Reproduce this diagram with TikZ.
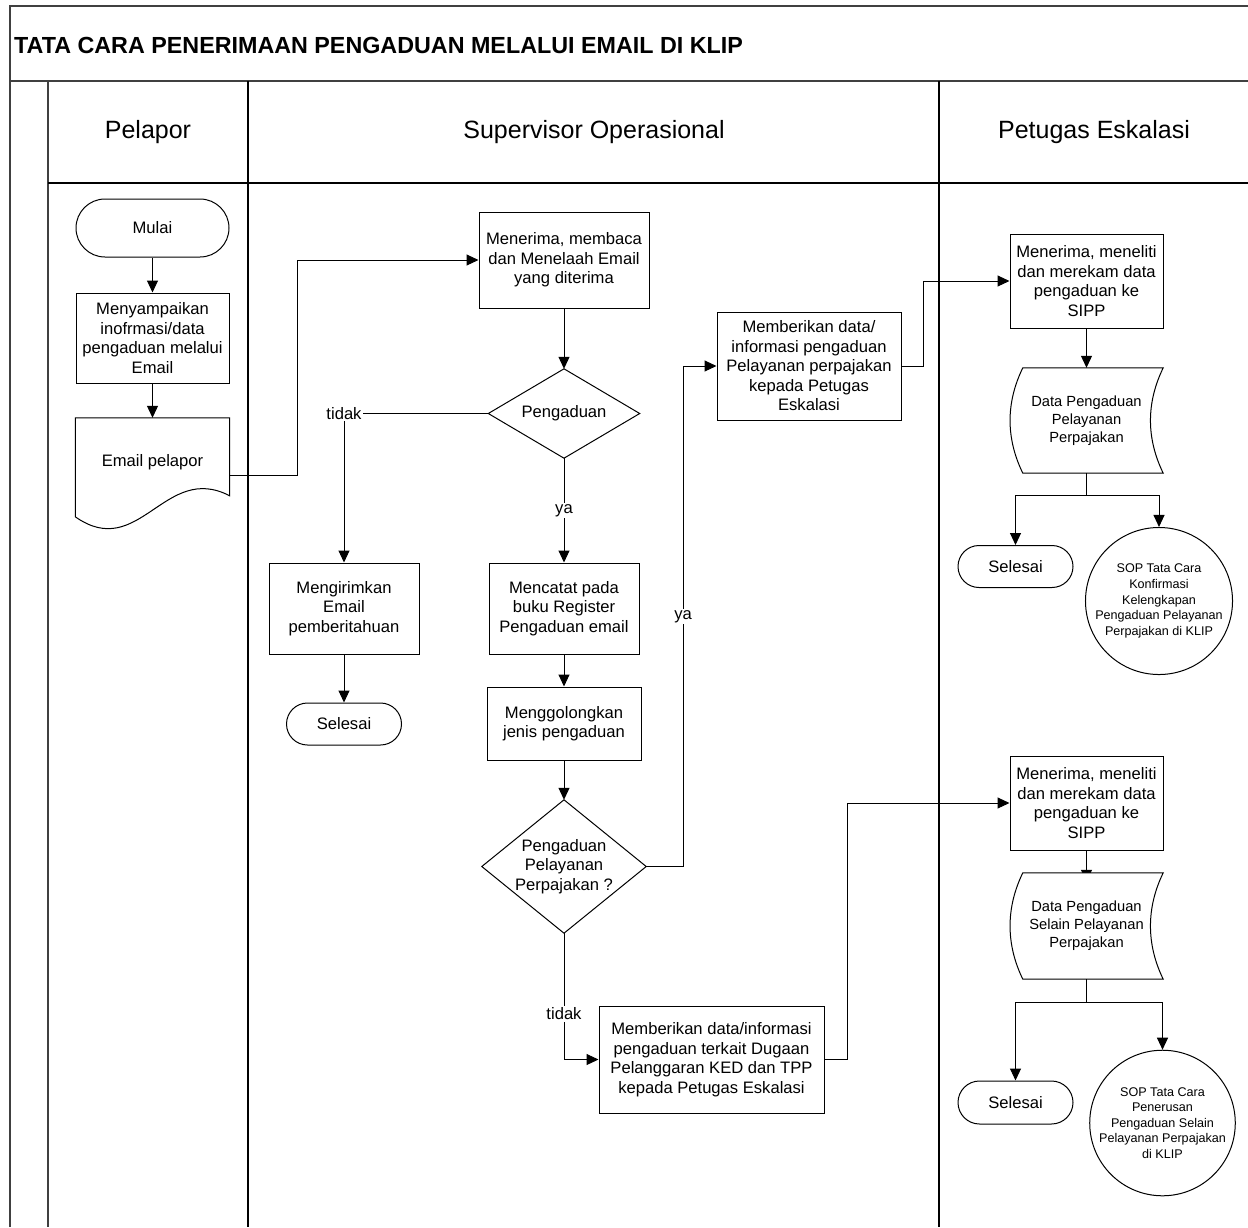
\documentclass[tikz,border=0pt]{standalone}
\usepackage{fontspec}
\setmainfont{Liberation Sans}
\usetikzlibrary{arrows.meta,calc,backgrounds}
\begin{document}
\begin{tikzpicture}[x=1pt,y=-1pt,
  every node/.style={font=\fontsize{16.6}{19.5}\selectfont, align=center, inner sep=0pt},
  proc/.style={draw, line width=1pt},
  term/.style={draw, line width=1pt},
  invis/.style={draw=none},
  sopc/.style={draw, line width=1pt, circle, minimum size=144pt, font=\fontsize{12.6}{15.6}\selectfont},
  lane/.style={line width=1.6pt, draw=black!75},
  conn/.style={line width=1pt},
  arr/.style={conn, -{Triangle[length=12pt,width=11pt]}},
  lbl/.style={fill=white, inner sep=1.5pt},
  shp/.style={line width=1pt, fill=white}
]
\useasboundingbox (0,0) rectangle (1248,1227);

% frame and lanes
\draw[lane] (10,1227) -- (10,6) -- (1248,6);
\draw[lane] (10,81) -- (1248,81);
\draw[lane] (48,81) -- (48,1227);
\draw[line width=1.2pt] (48,183) -- (1248,183);
\draw[line width=1.4pt] (248,81) -- (248,1227);
\draw[line width=1.4pt] (939,81) -- (939,1227);

\node[font=\fontsize{23.3}{28}\selectfont\bfseries, anchor=west] (title) at (14,45) {TATA CARA PENERIMAAN PENGADUAN MELALUI EMAIL DI KLIP};
\node[font=\fontsize{25}{30}\selectfont] (h1) at (148,132) {Pelapor};
\node[font=\fontsize{25}{30}\selectfont] (h2) at (594,132) {Supervisor Operasional};
\node[font=\fontsize{25}{30}\selectfont] (h3) at (1094,132) {Petugas Eskalasi};

% Pelapor lane
\node[term, minimum width=153pt, minimum height=58pt, rounded corners=29pt] (mulai) at (152.5,228) {Mulai};
\node[proc, minimum width=153pt, minimum height=90pt] (sampai) at (152.5,338) {Menyampaikan\\inofrmasi/data\\pengaduan melalui\\Email};
\node[invis, minimum width=154pt, minimum height=88pt] (email) at (152.5,462) {Email pelapor};

% Supervisor lane
\node[proc, minimum width=170pt, minimum height=96pt] (menerima) at (564,260) {Menerima, membaca\\dan Menelaah Email\\yang diterima};
\node[invis, minimum width=151pt, minimum height=89pt] (peng1) at (564,413.5) {Pengaduan};
\node[proc, minimum width=150pt, minimum height=91pt] (kirim) at (344,608.5) {Mengirimkan\\Email\\pemberitahuan};
\node[term, minimum width=115pt, minimum height=42pt, rounded corners=21pt] (sel1) at (344,724) {Selesai};
\node[proc, minimum width=150pt, minimum height=91pt] (catat) at (564,608.5) {Mencatat pada\\buku Register\\Pengaduan email};
\node[proc, minimum width=154pt, minimum height=73pt] (golong) at (564,723.5) {Menggolongkan\\jenis pengaduan};
\node[invis, minimum width=164pt, minimum height=133pt] (peng2) at (564,866.5) {Pengaduan\\Pelayanan\\Perpajakan ?};
\node[proc, minimum width=184pt, minimum height=108pt] (beri1) at (809,366) {Memberikan data/\\informasi pengaduan\\Pelayanan perpajakan\\kepada Petugas\\Eskalasi};
\node[proc, minimum width=225pt, minimum height=107pt] (beri2) at (711.5,1059.5) {Memberikan data/informasi\\pengaduan terkait Dugaan\\Pelanggaran KED dan TPP\\kepada Petugas Eskalasi};

% Petugas Eskalasi lane
\node[proc, minimum width=153pt, minimum height=94pt] (pe1) at (1086.5,281) {Menerima, meneliti\\dan merekam data\\pengaduan ke\\SIPP};
\node[invis, minimum width=153pt, minimum height=105pt, font=\fontsize{14.7}{18}\selectfont] (data1) at (1086.5,420.5) {Data Pengaduan\\Pelayanan\\Perpajakan};
\node[term, minimum width=115pt, minimum height=42pt, rounded corners=21pt] (sel2) at (1015.5,566.5) {Selesai};
\node[sopc] (sop1) at (1159,601) {SOP Tata Cara\\Konfirmasi\\Kelengkapan\\Pengaduan Pelayanan\\Perpajakan di KLIP};

\node[proc, minimum width=153pt, minimum height=94pt] (pe2) at (1086.5,803) {Menerima, meneliti\\dan merekam data\\pengaduan ke\\SIPP};
\node[invis, minimum width=153pt, minimum height=106pt, font=\fontsize{14.7}{18}\selectfont] (data2) at (1086.5,926) {Data Pengaduan\\Selain Pelayanan\\Perpajakan};
\node[term, minimum width=115pt, minimum height=43pt, rounded corners=21.5pt] (sel3) at (1015.5,1102.5) {Selesai};
\node[sopc, minimum size=142pt] (sop2) at (1162.5,1123) {SOP Tata Cara\\Penerusan\\Pengaduan Selain\\Pelayanan Perpajakan\\di KLIP};

% shapes drawn behind their texts
\begin{scope}[on background layer]
  \fill[white] (0,0) rectangle (1248,1227);
  \draw[arr] (pe2.south) -- ([yshift=-9pt]data2.north);
  \draw[shp] (email.north west) -- (email.north east) -- ($(email.north east)+(0,78)$)
     .. controls ($(email.north east)+(-65,44)$) and ($(email.north west)+(64,144)$) .. ($(email.north west)+(0,99)$) -- cycle;
  \draw[shp] (peng1.north) -- (peng1.east) -- (peng1.south) -- (peng1.west) -- cycle;
  \draw[shp] (peng2.north) -- (peng2.east) -- (peng2.south) -- (peng2.west) -- cycle;
  \foreach \d in {data1,data2}{
    \draw[shp] ($(\d.north west)+(13,0)$) -- (\d.north east)
      .. controls ($(\d.north east)+(-17,35)$) and ($(\d.south east)+(-17,-35)$) .. (\d.south east)
      -- ($(\d.south west)+(13,0)$)
      .. controls ($(\d.south west)+(-4,-35)$) and ($(\d.north west)+(-4,35)$) .. cycle;
  }
\end{scope}

% connectors
\draw[arr] (mulai.south) -- (sampai.north);
\draw[arr] (sampai.south) -- (email.north);
\draw[arr] ([yshift=-13pt]email.east) -- ++(68,0) |- (menerima.west);
\draw[arr] (menerima.south) -- (peng1.north);
\draw[arr] (peng1.west) -| node[lbl, pos=0.5] {tidak} (kirim.north);
\draw[arr] (kirim.south) -- (sel1.north);
\draw[arr] (peng1.south) -- node[lbl] {ya} (catat.north);
\draw[arr] (catat.south) -- (golong.north);
\draw[arr] (golong.south) -- (peng2.north);
\draw[arr] (peng2.east) -- ++(37,0) |- node[lbl, pos=0.25] {ya} (beri1.west);
\draw[arr] (peng2.south) |- node[lbl, pos=0.32] {tidak} (beri2.west);
\draw[arr] (beri1.east) -- ++(22,0) |- (pe1.west);
\draw[arr] (beri2.east) -- ++(23,0) |- (pe2.west);
\draw[arr] (pe1.south) -- (data1.north);
\draw[arr] (data1.south) -- ++(0,22) -| (sel2.north);
\draw[arr] (data1.south) -- ++(0,22) -| (sop1.north);
\draw[arr] (data2.south) -- ++(0,23) -| (sel3.north);
\draw[arr] (data2.south) -- ++(0,23) -| (sop2.north);
\end{tikzpicture}
\end{document}
